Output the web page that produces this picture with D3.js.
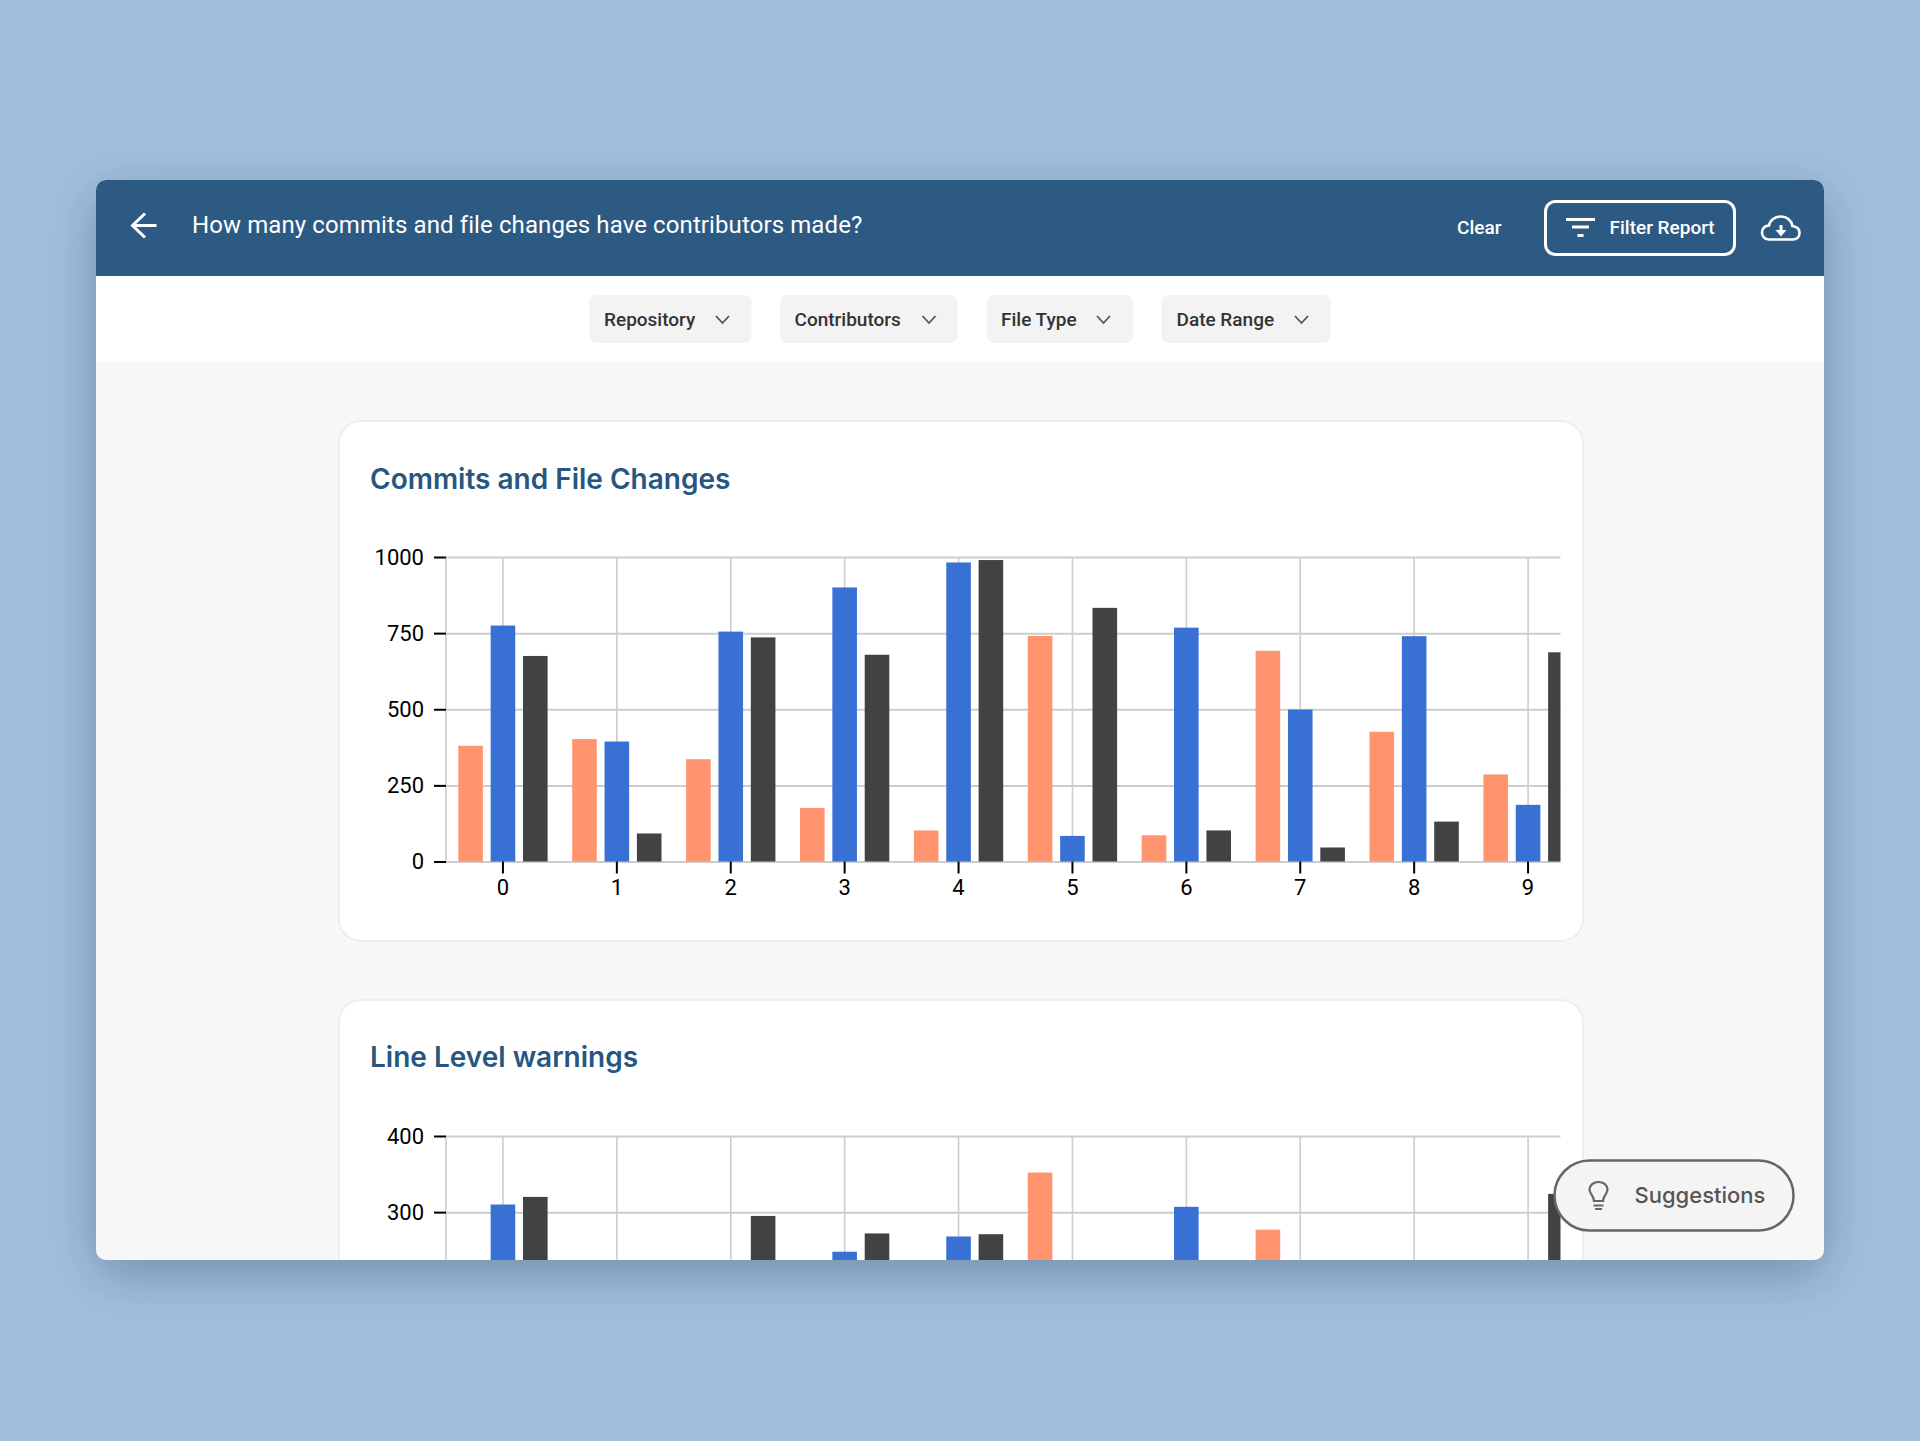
<!DOCTYPE html>
<html>
<head>
<meta charset="utf-8">
<script src="https://cdn.jsdelivr.net/npm/d3@7/dist/d3.min.js"></script>
<style>
  html, body { margin: 0; padding: 0; background: #a2c0dd; }
  svg { display: block; }
  text { font-family: Roboto, sans-serif; }
  .axis text { fill: #000; font-size: 22px; font-family: Roboto, sans-serif; }
  .axis .domain { display: none; }
  .axis line { stroke: #000; stroke-width: 2px; }
  .grid .domain { display: none; }
  .grid text { display: none; }
  .grid line { stroke: #cdcdcd; }
</style>
</head>
<body>
<div id="chart"></div>
<script>
// Data
const categories = ['0', '1', '2', '3', '4', '5', '6', '7', '8', '9'];
const seriesNames = ['a', 'b', 'c'];
const seriesColors = ['#ff946f', '#3871d3', '#414244'];

const commitsA = [380, 402, 336, 176, 102, 741, 86, 692, 426, 286];
const commitsB = [775, 394, 755, 900, 982, 84, 768, 499, 740, 186];
const commitsC = [675, 92, 736, 679, 990, 833, 102, 46, 131, 687];
const commitTicks = [0, 250, 500, 750, 1000];

// second card is cut off by the window, null = bar not visible in the picture
const warningsA = [null, null, null, null, null, 352, null, 277, null, null];
const warningsB = [310, null, null, 248, 268, null, 307, null, null, null];
const warningsC = [320, null, 295, 272, 271, null, null, null, null, 324];
const warningTicks = [0, 100, 200, 300, 400];

const filterLabels = ['Repository', 'Contributors', 'File Type', 'Date Range'];

// Layout
const W = 1920, H = 1441;
const WIN = { x: 96, y: 180, w: 1728, h: 1080, header: 96, bar: 86 };
const PLOT = { left: 446, right: 1560.5, bandRight: 1585, height: 304.5 };

const svg = d3.select('#chart').append('svg').attr('width', W).attr('height', H);
const defs = svg.append('defs');

const shadow = defs.append('filter').attr('id', 'shadow')
  .attr('x', '-10%').attr('y', '-10%').attr('width', '120%').attr('height', '125%');
shadow.append('feDropShadow').attr('dx', 0).attr('dy', 14).attr('stdDeviation', 26)
  .attr('flood-color', '#2b4660').attr('flood-opacity', 0.42);

defs.append('clipPath').attr('id', 'win-clip').append('rect')
  .attr('x', WIN.x).attr('y', WIN.y).attr('width', WIN.w).attr('height', WIN.h).attr('rx', 10);
defs.append('clipPath').attr('id', 'plot-clip').append('rect')
  .attr('x', PLOT.left).attr('y', 0).attr('width', PLOT.right - PLOT.left).attr('height', H);

svg.append('rect').attr('width', W).attr('height', H).attr('fill', '#a2c0dd');
svg.append('rect').attr('x', WIN.x).attr('y', WIN.y).attr('width', WIN.w).attr('height', WIN.h)
  .attr('rx', 10).attr('fill', '#f7f7f7').attr('filter', 'url(#shadow)');

const win = svg.append('g').attr('clip-path', 'url(#win-clip)');
win.append('rect').attr('x', WIN.x).attr('y', WIN.y).attr('width', WIN.w).attr('height', WIN.header).attr('fill', '#2d5a82');
win.append('rect').attr('x', WIN.x).attr('y', WIN.y + WIN.header).attr('width', WIN.w).attr('height', WIN.bar).attr('fill', '#fff');

// Header
win.append('path').attr('d', 'M156.5 225.5H133M145 213.5L132.5 225.5L145 237.5')
  .attr('fill', 'none').attr('stroke', '#fff').attr('stroke-width', 3);
win.append('text').attr('x', 192).attr('y', 233).attr('fill', '#fff')
  .style('font-size', '24px').style('letter-spacing', '0.1px')
  .text('How many commits and file changes have contributors made?');
win.append('text').attr('x', 1457).attr('y', 234).attr('fill', '#fff')
  .style('font-size', '19px').style('font-weight', 500).text('Clear');
win.append('rect').attr('x', 1545.5).attr('y', 201.5).attr('width', 189).attr('height', 53).attr('rx', 10)
  .attr('fill', 'none').attr('stroke', '#fff').attr('stroke-width', 3);
win.append('path').attr('d', 'M1566 219.5H1595M1572 227H1589M1577.5 235.5H1583.5')
  .attr('fill', 'none').attr('stroke', '#fff').attr('stroke-width', 3);
win.append('text').attr('x', 1609.5).attr('y', 234).attr('fill', '#fff')
  .style('font-size', '19px').style('font-weight', 500).text('Filter Report');
win.append('path')
  .attr('d', 'M1769 239.5C1764 239.5 1762 235.5 1762 232.5C1762 228.5 1765 225.5 1769 225.5C1770 220 1775 216.5 1781 216.5C1787 216.5 1791.5 220.5 1792.5 226C1796.5 226.5 1799.5 229 1799.5 233C1799.5 236.5 1797 239.5 1793 239.5Z')
  .attr('fill', 'none').attr('stroke', '#fff').attr('stroke-width', 2.6);
win.append('path').attr('d', 'M1781 225V232').attr('stroke', '#fff').attr('stroke-width', 3);
win.append('path').attr('d', 'M1775.5 230H1786.5L1781 236.5Z').attr('fill', '#fff');

// Filter pills
const pillX = [[589.5, 751.5, 604, 716], [780, 957.5, 794.5, 922.5], [987, 1133, 1001, 1097], [1161.5, 1330.5, 1176.5, 1295]];
filterLabels.forEach((label, i) => {
  const [x0, x1, tx, cx] = pillX[i];
  win.append('rect').attr('x', x0).attr('y', 295).attr('width', x1 - x0).attr('height', 48).attr('rx', 7).attr('fill', '#f3f3f3');
  win.append('text').attr('x', tx).attr('y', 325.5).attr('fill', '#333').style('font-size', '19px').style('font-weight', 500).text(label);
  win.append('path').attr('d', `M${cx} 316L${cx + 6.5} 323L${cx + 13} 316`).attr('fill', 'none').attr('stroke', '#555').attr('stroke-width', 1.8);
});

function drawCard(y, height, title, titleY, zeroY, ticks, series) {
  win.append('rect').attr('x', 339).attr('y', y).attr('width', 1244).attr('height', height).attr('rx', 22)
    .attr('fill', '#fff').attr('stroke', '#eeeeee').attr('stroke-width', 2);
  win.append('text').attr('x', 370).attr('y', titleY).attr('fill', '#27567f')
    .style('font-family', 'Inter, sans-serif').style('font-size', '28px').style('font-weight', 600).text(title);

  const x0 = d3.scaleBand().domain(categories).range([PLOT.left, PLOT.bandRight]);
  const x1 = d3.scaleBand().domain(seriesNames).range([0, x0.bandwidth()]).paddingInner(0.24).paddingOuter(0.38);
  const yScale = d3.scaleLinear().domain(d3.extent(ticks)).range([zeroY, zeroY - PLOT.height]);

  // grid under the bars
  win.append('g').attr('class', 'grid').attr('transform', `translate(0,${zeroY})`)
    .call(d3.axisBottom(x0).tickSize(-PLOT.height).tickFormat(''))
    .selectAll('line').style('stroke-width', '1.6px');
  win.append('g').attr('class', 'grid').attr('transform', `translate(${PLOT.left},0)`)
    .call(d3.axisRight(yScale).tickValues(ticks).tickSize(PLOT.right - PLOT.left).tickFormat(''))
    .selectAll('line').style('stroke-width', '2px');
  win.append('line').attr('x1', PLOT.left).attr('x2', PLOT.left)
    .attr('y1', yScale(ticks[ticks.length - 1])).attr('y2', zeroY)
    .attr('stroke', '#cdcdcd').attr('stroke-width', 1.6);

  const bars = win.append('g').attr('clip-path', 'url(#plot-clip)');
  series.forEach((values, s) => {
    bars.append('g').selectAll('rect')
      .data(values.map((v, i) => ({ cat: categories[i], v })).filter(d => d.v !== null))
      .enter().append('rect')
      .attr('x', d => x0(d.cat) + x1(seriesNames[s]))
      .attr('y', d => yScale(d.v))
      .attr('width', x1.bandwidth())
      .attr('height', d => zeroY - yScale(d.v))
      .attr('fill', seriesColors[s]);
  });

  win.append('g').attr('class', 'axis').attr('transform', `translate(${PLOT.left},0)`)
    .call(d3.axisLeft(yScale).tickValues(ticks).tickSize(12).tickPadding(10).tickFormat(d3.format('d')));
  win.append('g').attr('class', 'axis').attr('transform', `translate(0,${zeroY})`)
    .call(d3.axisBottom(x0).tickSize(12).tickPadding(6));
}

drawCard(421, 520, 'Commits and File Changes', 489, 861.5, commitTicks, [commitsA, commitsB, commitsC]);
drawCard(1000, 520, 'Line Level warnings', 1067, 1440.5, warningTicks, [warningsA, warningsB, warningsC]);

// Suggestions button
win.append('rect').attr('x', 1554.5).attr('y', 1160.5).attr('width', 239).attr('height', 70).attr('rx', 35)
  .attr('fill', '#f4f4f4').attr('stroke', '#666', 1).attr('stroke-width', 2.5);
win.append('path')
  .attr('d', 'M1594 1201C1594 1196 1589.5 1194 1589.5 1189.5C1589.5 1185 1593.5 1182 1598.5 1182C1603.5 1182 1607.5 1185 1607.5 1189.5C1607.5 1194 1603 1196 1603 1201Z')
  .attr('fill', 'none').attr('stroke', '#666').attr('stroke-width', 2.2);
win.append('path').attr('d', 'M1593.5 1205.5H1603.5M1595 1209H1602').attr('stroke', '#666').attr('stroke-width', 2.2);
win.append('text').attr('x', 1634.5).attr('y', 1203).attr('fill', '#555')
  .style('font-family', 'Inter, sans-serif').style('font-size', '22px').style('font-weight', 500).text('Suggestions');
</script>
</body>
</html>
